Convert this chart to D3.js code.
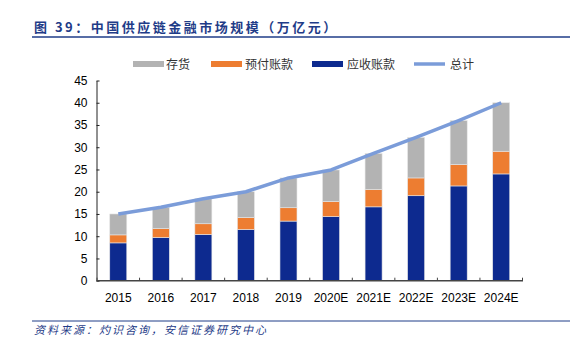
<!DOCTYPE html>
<html><head><meta charset="utf-8">
<script src="https://cdn.jsdelivr.net/npm/d3@7"></script>
<style>body{margin:0;background:#fff}svg{display:block}</style>
</head><body>
<script>
const categories = ["2015","2016","2017","2018","2019","2020E","2021E","2022E","2023E","2024E"];
const receivables = [8.5, 9.7, 10.4, 11.5, 13.4, 14.4, 16.6, 19.1, 21.3, 24.0];
const prepayments = [1.8, 2.0, 2.4, 2.7, 3.0, 3.4, 3.9, 4.0, 4.8, 5.1];
const inventory   = [4.7, 4.8, 5.6, 5.8, 6.7, 7.1, 8.1, 9.1, 9.9, 10.9];
const totals      = [15.0, 16.5, 18.4, 20.0, 23.1, 24.9, 28.6, 32.2, 36.0, 40.0];
const yTicks = [0,5,10,15,20,25,30,35,40,45];
const seriesNames = ["存货","预付账款","应收账款","总计"];

const W=588,H=345;
const svg=d3.select("body").append("svg").attr("width",W).attr("height",H);
const navy="#1f3c88";
const cjk="'Noto Sans CJK SC','Noto Sans',sans-serif";
const num="'Liberation Sans',Arial,sans-serif";

// Title
svg.append("text").attr("x",34).attr("y",32).attr("fill",navy)
  .attr("font-family",cjk).attr("font-weight","bold").attr("font-size",13)
  .attr("letter-spacing",2.5).text("图 39：中国供应链金融市场规模（万亿元）");
svg.append("line").attr("x1",32).attr("x2",570).attr("y1",37).attr("y2",37)
  .attr("stroke",navy).attr("stroke-width",1.5);

const x=d3.scaleBand().domain(categories).range([97,522.5]).paddingInner(0.6).paddingOuter(0.3);
const y=d3.scaleLinear().domain([0,45]).range([280.7,80.5]);

const colors={inv:"#b3b3b3",pre:"#ed7d31",rec:"#0d2a8f",tot:"#7b9cd9"};

const rows=categories.map((c,i)=>({cat:c,rec:receivables[i],pre:prepayments[i],inv:inventory[i]}));
const stack=d3.stack().keys(["rec","pre","inv"])(rows);
const g=svg.append("g");
stack.forEach(s=>{
  g.selectAll(null).data(s).enter().append("rect")
    .attr("x",d=>x(d.data.cat)).attr("width",x.bandwidth())
    .attr("y",d=>y(d[1])).attr("height",d=>y(d[0])-y(d[1]))
    .attr("fill",colors[s.key]).attr("stroke","#e6e6e6").attr("stroke-width",0.6);
});

// line
const line=d3.line().x((d,i)=>x(categories[i])+x.bandwidth()/2).y(d=>y(d));
svg.append("path").datum(totals).attr("d",line).attr("fill","none")
  .attr("stroke",colors.tot).attr("stroke-width",3.5).attr("stroke-linejoin","round");

// axes
const yAxis=d3.axisLeft(y).tickValues(yTicks).tickSizeInner(-3).tickSizeOuter(0).tickPadding(9);
const ya=svg.append("g").attr("transform","translate(96.5,0)").call(yAxis);
ya.selectAll("text").attr("font-family",num).attr("font-size",12).attr("fill","#000");
ya.selectAll("line,path").attr("stroke","#222");

const xa=svg.append("g").attr("transform","translate(0,280.7)");
xa.append("line").attr("x1",96.5).attr("x2",523).attr("y1",0).attr("y2",0).attr("stroke","#444").attr("stroke-width",1.5);
d3.range(11).forEach(i=>{
  const xx=97+i*(425.5/10);
  xa.append("line").attr("x1",xx).attr("x2",xx).attr("y1",0).attr("y2",-3).attr("stroke","#444");
});
xa.selectAll(null).data(categories).enter().append("text")
  .attr("x",d=>x(d)+x.bandwidth()/2).attr("y",21.5).attr("text-anchor","middle")
  .attr("font-family",num).attr("font-size",12).attr("fill","#000").text(d=>d);

// legend
const leg=[{n:seriesNames[0],c:colors.inv,x:133,t:166,w:6},{n:seriesNames[1],c:colors.pre,x:211,t:245,w:6},
  {n:seriesNames[2],c:colors.rec,x:312,t:347,w:6},{n:seriesNames[3],c:colors.tot,x:414,t:450,w:3.5}];
leg.forEach(l=>{
  svg.append("line").attr("x1",l.x).attr("x2",l.x+31).attr("y1",64).attr("y2",64)
    .attr("stroke",l.c).attr("stroke-width",l.w);
  svg.append("text").attr("x",l.t).attr("y",68.5).attr("font-family",cjk)
    .attr("font-size",12).attr("fill","#333").text(l.n);
});

// source
svg.append("line").attr("x1",32).attr("x2",570).attr("y1",321).attr("y2",321).attr("stroke",navy).attr("stroke-width",1);
svg.append("text").attr("x",34).attr("y",334).attr("font-family",cjk).attr("font-style","italic")
  .attr("font-size",11).attr("fill",navy).attr("letter-spacing",2).text("资料来源：灼识咨询，安信证券研究中心");
</script>
</body></html>
